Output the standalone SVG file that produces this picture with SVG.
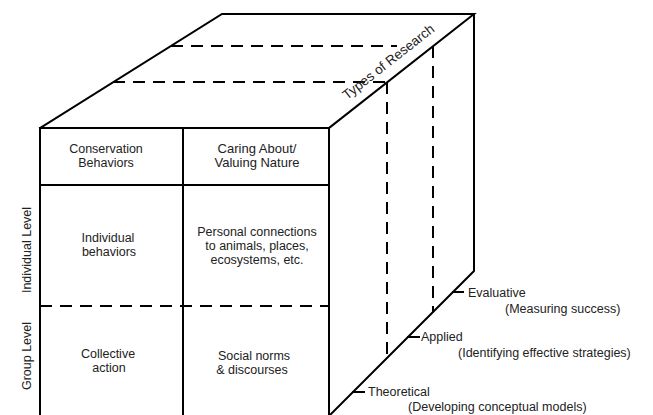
<svg xmlns="http://www.w3.org/2000/svg" width="653" height="415" viewBox="0 0 653 415">
<style>
.solid{fill:none;stroke:#000;stroke-width:2;stroke-linecap:square}
.dash{fill:none;stroke:#000;stroke-width:2;stroke-dasharray:12 8}
.t{font-family:"Liberation Sans",Arial,sans-serif;font-size:12.5px;fill:#222}
.c{text-anchor:middle}
.h{font-family:"Liberation Sans",Arial,sans-serif;font-size:13px;fill:#222;text-anchor:middle}
</style>
<rect width="653" height="415" fill="#fff"/>
<g id="cube-frame">
<path class="solid" d="M40,128 L222,14 L474,14 L329,128"/>
<path class="solid" d="M474,14 L474,271 L329,416"/>
<path class="solid" d="M40,128 L329,128 M40,128 L40,416 M329,128 L329,416 M183,128 L183,416 M40,185 L329,185"/>
</g>
<g id="connectors">
<path class="dash" d="M171,46 L397,46 M113,82 L387,82"/>
<path class="dash" d="M433,46 L433,312 M387,82 L387,357"/>
<path class="dash" d="M40,306 L329,306"/>
<path class="solid" d="M453,292 L463,292 M408,337 L419,337 M353,392 L364,392"/>
</g>
<g id="header-conservation">
<text class="t c" x="106" y="153">Conservation</text>
<text class="t c" x="106" y="167">Behaviors</text>
</g>
<g id="header-caring">
<text class="h" x="257" y="153">Caring About/</text>
<text class="h" x="257" y="167">Valuing Nature</text>
</g>
<g id="cell-individual-behaviors">
<text class="t c" x="108" y="242">Individual</text>
<text class="t c" x="109" y="256">behaviors</text>
</g>
<g id="cell-personal-connections">
<text class="t c" x="257" y="236">Personal connections</text>
<text class="t c" x="257" y="250">to animals, places,</text>
<text class="t c" x="257" y="264">ecosystems, etc.</text>
</g>
<g id="cell-collective-action">
<text class="t c" x="108" y="358">Collective</text>
<text class="t c" x="109" y="372">action</text>
</g>
<g id="cell-social-norms">
<text class="t c" x="254" y="360">Social norms</text>
<text class="t c" x="252" y="374">&amp; discourses</text>
</g>
<g id="label-individual-level">
<text class="t c" transform="translate(31,250) rotate(-90)">Individual Level</text>
</g>
<g id="label-group-level">
<text class="t c" transform="translate(31,356) rotate(-90)">Group Level</text>
</g>
<g id="label-types-of-research">
<text class="h" style="font-size:13.5px" transform="translate(398,74) rotate(-38.2)" y="-11">Types of Research</text>
</g>
<g id="type-evaluative">
<text class="t" x="468" y="297">Evaluative</text>
<text class="t" x="505" y="313">(Measuring success)</text>
</g>
<g id="type-applied">
<text class="t" x="421" y="341">Applied</text>
<text class="t" x="458" y="357">(Identifying effective strategies)</text>
</g>
<g id="type-theoretical">
<text class="t" x="368" y="396">Theoretical</text>
<text class="t" x="408" y="411">(Developing conceptual models)</text>
</g>
</svg>
